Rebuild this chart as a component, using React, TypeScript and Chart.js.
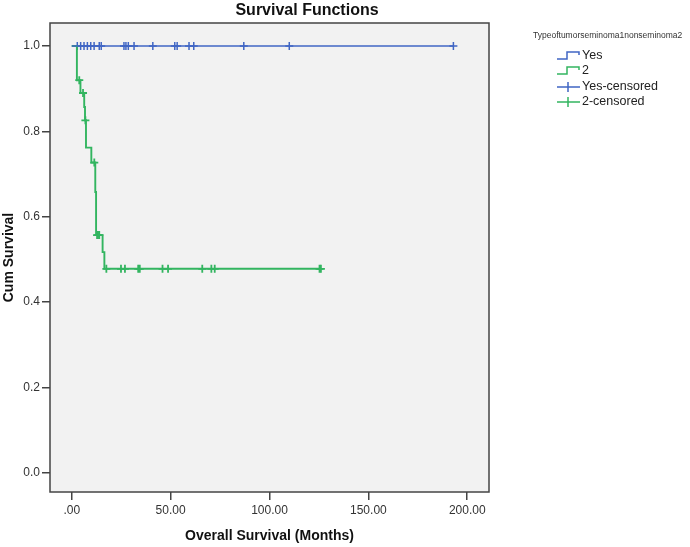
import React, { useEffect, useRef } from "react";
import { Chart, registerables } from "chart.js";

Chart.register(...registerables);

// ---------- data ----------
const chartTitle = "Survival Functions";
const xAxisTitle = "Overall Survival (Months)";
const yAxisTitle = "Cum Survival";
const legendTitle = "Typeoftumorseminoma1nonseminoma2";
const seriesNames = ["Yes", "2", "Yes-censored", "2-censored"];

const xTickValues = [0, 50, 100, 150, 200];
const xTickLabels = [".00", "50.00", "100.00", "150.00", "200.00"];
const yTickValues = [0, 0.2, 0.4, 0.6, 0.8, 1.0];
const yTickLabels = ["0.0", "0.2", "0.4", "0.6", "0.8", "1.0"];

// Group "Yes" (seminoma): no events
const yesTimes = [0, 193];
const yesSurvival = [1.0, 1.0];
const yesCensoredTimes = [2.8, 4.5, 6.2, 7.9, 9.6, 11.3, 13.9, 14.9, 26.4, 27.4, 28.6, 31.5, 41.0, 52.1, 53.3, 59.3, 61.7, 87.0, 110.0, 193.0];
const yesCensoredSurvival = [1, 1, 1, 1, 1, 1, 1, 1, 1, 1, 1, 1, 1, 1, 1, 1, 1, 1, 1, 1];

// Group "2" (nonseminoma)
const g2Times = [0, 2.6, 4.4, 6.3, 6.7, 7.2, 9.9, 11.9, 12.3, 15.6, 16.5, 126.0];
const g2Survival = [1.0, 0.92, 0.89, 0.857, 0.826, 0.762, 0.727, 0.658, 0.557, 0.517, 0.478, 0.478];
const g2CensoredTimes = [3.8, 5.7, 6.9, 11.4, 12.8, 13.3, 13.9, 17.5, 24.9, 26.9, 33.6, 34.4, 45.9, 48.7, 66.0, 70.6, 72.3, 125.3, 126.0];
const g2CensoredSurvival = [0.92, 0.89, 0.826, 0.727, 0.557, 0.557, 0.557, 0.478, 0.478, 0.478, 0.478, 0.478, 0.478, 0.478, 0.478, 0.478, 0.478, 0.478, 0.478];

// ---------- styles ----------
const BLUE = "#4066C4";
const GREEN = "#33B560";
const AXIS = "#444444";
const FONT = "'Liberation Sans', Arial, sans-serif";

const toPoints = (xs: number[], ys: number[]) => xs.map((x, i) => ({ x, y: ys[i] }));

const decorPlugin = {
  id: "decor",
  beforeDraw(chart: any) {
    const { ctx, chartArea: a } = chart;
    ctx.save();
    ctx.fillStyle = "#F2F2F2";
    ctx.fillRect(a.left, a.top, a.right - a.left, a.bottom - a.top);
    ctx.restore();
  },
  afterDraw(chart: any) {
    const { ctx, chartArea: a } = chart;
    ctx.save();
    // frame
    ctx.strokeStyle = AXIS;
    ctx.lineWidth = 1.5;
    ctx.strokeRect(a.left, a.top, a.right - a.left, a.bottom - a.top);

    // title
    ctx.fillStyle = "#111";
    ctx.font = `bold 16px ${FONT}`;
    ctx.textAlign = "center";
    ctx.textBaseline = "middle";
    ctx.fillText(chartTitle, 307, 11);

    // legend
    ctx.textAlign = "left";
    ctx.fillStyle = "#333";
    ctx.font = `8.5px ${FONT}`;
    ctx.fillText(legendTitle, 533, 36);

    const rowsY = [56, 71, 87, 102];
    const colors = [BLUE, GREEN, BLUE, GREEN];
    ctx.font = `12.5px ${FONT}`;
    for (let i = 0; i < 4; i++) {
      const y = rowsY[i];
      ctx.strokeStyle = colors[i];
      ctx.lineWidth = 1.5;
      ctx.beginPath();
      if (i < 2) {
        ctx.moveTo(557, y + 3);
        ctx.lineTo(567, y + 3);
        ctx.lineTo(567, y - 4);
        ctx.lineTo(579, y - 4);
        ctx.lineTo(579, y - 1);
      } else {
        ctx.moveTo(557, y);
        ctx.lineTo(580, y);
        ctx.moveTo(568, y - 5);
        ctx.lineTo(568, y + 5);
      }
      ctx.stroke();
      ctx.fillStyle = "#222";
      ctx.fillText(seriesNames[i], 582, y);
    }
    ctx.restore();
  },
};

export default function App() {
  const canvasRef = useRef<HTMLCanvasElement | null>(null);

  useEffect(() => {
    if (!canvasRef.current) return;
    const chart = new Chart(canvasRef.current, {
      type: "scatter",
      data: {
        datasets: [
          {
            label: seriesNames[0],
            data: toPoints(yesTimes, yesSurvival),
            showLine: true,
            stepped: true,
            borderColor: BLUE,
            borderWidth: 1.6,
            pointRadius: 0,
          },
          {
            label: seriesNames[1],
            data: toPoints(g2Times, g2Survival),
            showLine: true,
            stepped: true,
            borderColor: GREEN,
            borderWidth: 1.9,
            pointRadius: 0,
          },
          {
            label: seriesNames[2],
            data: toPoints(yesCensoredTimes, yesCensoredSurvival),
            showLine: false,
            pointStyle: "cross",
            pointRadius: 4,
            borderColor: BLUE,
            backgroundColor: BLUE,
            pointBorderWidth: 1.5,
          },
          {
            label: seriesNames[3],
            data: toPoints(g2CensoredTimes, g2CensoredSurvival),
            showLine: false,
            pointStyle: "cross",
            pointRadius: 4,
            borderColor: GREEN,
            backgroundColor: GREEN,
            pointBorderWidth: 1.8,
          },
        ],
      },
      options: {
        animation: false,
        responsive: false,
        devicePixelRatio: 1,
        layout: { padding: { top: 23, right: 201, bottom: 0, left: 0 } },
        plugins: {
          legend: { display: false },
          title: { display: false },
          tooltip: { enabled: false },
        },
        scales: {
          x: {
            type: "linear",
            min: -11,
            max: 211,
            afterFit: (s: any) => {
              s.height = 55;
            },
            afterBuildTicks: (s: any) => {
              s.ticks = xTickValues.map((v) => ({ value: v }));
            },
            grid: {
              drawOnChartArea: false,
              drawTicks: true,
              tickLength: 8,
              color: AXIS,
              lineWidth: 1.5,
            },
            border: { display: false },
            ticks: {
              padding: 3,
              color: "#333",
              font: { family: FONT, size: 12 },
              maxRotation: 0,
              callback: (v: any) => {
                const i = xTickValues.indexOf(Number(v));
                return i >= 0 ? xTickLabels[i] : "";
              },
            },
            title: {
              display: true,
              text: xAxisTitle,
              color: "#111",
              font: { family: FONT, size: 14, weight: "bold" },
              padding: { top: 0, bottom: 2 },
            },
          },
          y: {
            type: "linear",
            min: -0.045,
            max: 1.054,
            afterFit: (s: any) => {
              s.width = 50;
            },
            afterBuildTicks: (s: any) => {
              s.ticks = yTickValues.map((v) => ({ value: v }));
            },
            grid: {
              drawOnChartArea: false,
              drawTicks: true,
              tickLength: 8,
              color: AXIS,
              lineWidth: 1.5,
            },
            border: { display: false },
            ticks: {
              padding: 2,
              color: "#333",
              font: { family: FONT, size: 12 },
              callback: (v: any) => {
                const i = yTickValues.findIndex((t) => Math.abs(t - Number(v)) < 1e-9);
                return i >= 0 ? yTickLabels[i] : "";
              },
            },
            title: {
              display: true,
              text: yAxisTitle,
              color: "#111",
              font: { family: FONT, size: 14, weight: "bold" },
              padding: { top: 1, bottom: 0 },
            },
          },
        },
      },
      plugins: [decorPlugin],
    });
    return () => chart.destroy();
  }, []);

  return (
    <div style={{ position: "fixed", left: 0, top: 0, width: 690, height: 547, background: "#fff" }}>
      <canvas ref={canvasRef} width={690} height={547} style={{ width: 690, height: 547, display: "block" }} />
    </div>
  );
}
